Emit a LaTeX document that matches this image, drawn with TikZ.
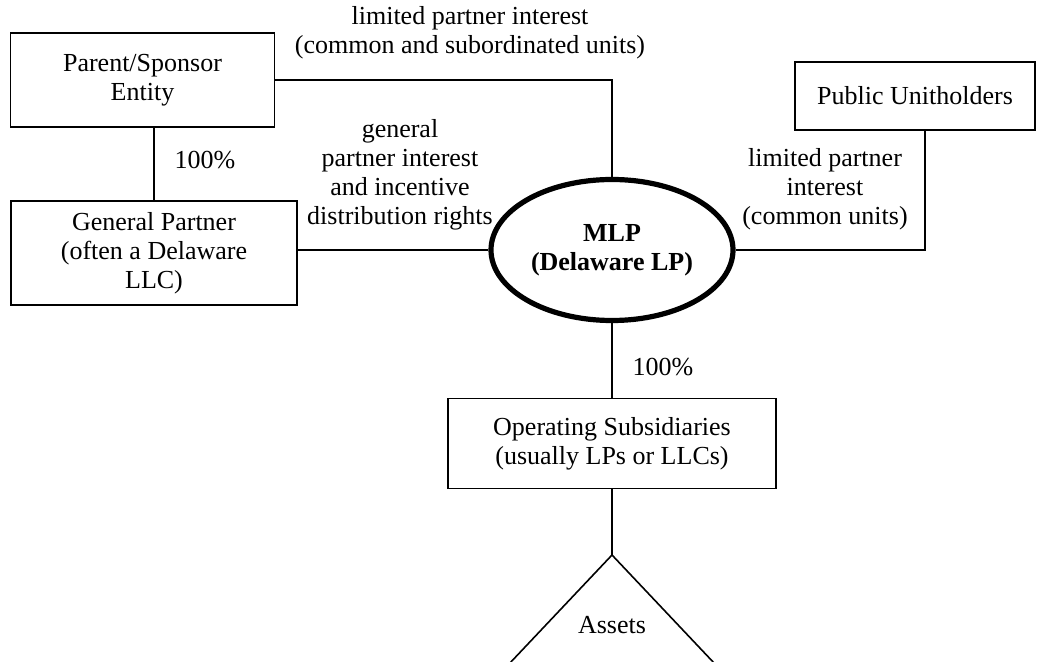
\documentclass[tikz,border=0pt]{standalone}
\usepackage{fontspec}
\setmainfont{Liberation Serif}
\usetikzlibrary{shapes.geometric}

\begin{document}
\begin{tikzpicture}[
  x=0.5pt, y=-0.5pt,
  font=\fontsize{13}{14.5}\selectfont,
  entity/.style={draw, line width=0.9pt, align=center, inner sep=2pt},
  mlpshape/.style={ellipse, draw, line width=2.6pt, align=center, inner sep=0pt,
    font=\fontsize{13}{14.5}\selectfont\bfseries, minimum width=121pt, minimum height=70.5pt},
  note/.style={align=center, inner sep=0pt},
  link/.style={line width=0.8pt}
]
\useasboundingbox (0,0) rectangle (1039,662);
\clip (0,0) rectangle (1039,662);

\node[entity, minimum width=132pt, minimum height=47pt] (parent) at (142.5,80) {Parent/Sponsor\\Entity};
\node[entity, minimum width=143pt, minimum height=52pt] (gp) at (154,253) {General Partner\\(often a Delaware\\LLC)};
\node[mlpshape] (mlp) at (612,250) {MLP\\(Delaware LP)};
\node[entity, minimum width=120pt, minimum height=34pt] (pub) at (915,96) {Public Unitholders};
\node[entity, minimum width=164pt, minimum height=45pt] (ops) at (612,443.5) {Operating Subsidiaries\\(usually LPs or LLCs)};
\coordinate (apex) at (612,555);
\node[note] (assets) at (612,625) {Assets};

\node[note] (lpsub) at (470,33) {limited partner interest\\(common and subordinated units)};
\node[note] (gpown) at (205,160) {100\%};
\node[note] (gpint) at (400,175) {general\\partner interest\\and incentive\\distribution rights};
\node[note] (lpcom) at (825,189) {limited partner\\interest\\(common units)};
\node[note] (opsown) at (663,367) {100\%};

\draw[link] (parent.east) -| (mlp.north);
\draw[link] (gp.north |- parent.south) -- (gp.north);
\draw[link] (mlp.west -| gp.east) -- (mlp.west);
\draw[link] ([xshift=5pt]pub.south) |- (mlp.east);
\draw[link] (mlp.south) -- (ops.north);
\draw[link] (ops.south) -- (apex);
\draw[link] (apex) -- ++(-137,145) (apex) -- ++(137,145);
\end{tikzpicture}
\end{document}
